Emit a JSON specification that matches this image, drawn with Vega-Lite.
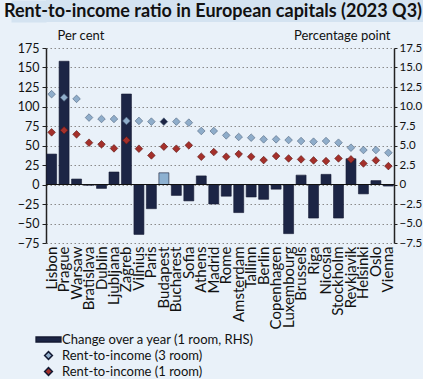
{
  "$schema": "https://vega.github.io/schema/vega-lite/v6.json",
  "background": "#e9f1f9",
  "padding": 0,
  "columns": 1,
  "bounds": "full",
  "spacing": 7,
  "config": {
    "font": "Lato",
    "view": {"stroke": null},
    "axis": {"labelFont": "Lato", "labelFontSize": 12, "labelColor": "#111", "titleFont": "Lato", "titleFontSize": 13, "titleFontWeight": "normal", "titleColor": "#111", "domainColor": "#222", "tickColor": "#222", "labelOverlap": false},
    "legend": {"orient": "none", "legendX": -4, "legendY": 333, "title": null, "labelFont": "Lato", "labelFontSize": 13, "labelColor": "#111", "labelLimit": 400, "symbolSize": 60, "rowPadding": 1, "direction": "vertical", "labelOffset": 7}
  },
  "concat": [
    {
      "width": 388,
      "height": 22,
      "view": {"fill": "#d4e3f1", "stroke": null},
      "title": {"text": "Rent-to-income ratio in European capitals (2023 Q3)", "anchor": "start", "frame": "bounds", "offset": -21, "fontSize": 18, "font": "Lato", "fontWeight": "bold", "color": "#111", "dx": 4},
      "mark": {"type": "point", "opacity": 0},
      "encoding": {
        "y": {"datum": 0, "type": "quantitative", "scale": {"domain": [-1, 1]},
              "axis": {"values": [0], "tickSize": 35, "tickWidth": 22, "tickColor": "#d4e3f1", "labels": false, "domain": false, "title": null, "grid": false}}
      }
    },
    {
      "width": 348,
      "height": 195,
      "data": {"values": [
        {"city": "Lisbon", "change": 3.9, "r3": 115.8, "r1": 66.9},
        {"city": "Prague", "change": 15.8, "r3": 111.5, "r1": 69.5},
        {"city": "Warsaw", "change": 0.7, "r3": 109.8, "r1": 64.3},
        {"city": "Bratislava", "change": -0.1, "r3": 85.8, "r1": 53.6},
        {"city": "Dublin", "change": -0.5, "r3": 84, "r1": 51.5},
        {"city": "Ljubljana", "change": 1.6, "r3": 84, "r1": 46.3},
        {"city": "Zagreb", "change": 11.6, "r3": 81.5, "r1": 56.6},
        {"city": "Vilnius", "change": -6.4, "r3": 81.5, "r1": 45.9},
        {"city": "Paris", "change": -3.1, "r3": 80.6, "r1": 37.3},
        {"city": "Budapest", "change": 1.5, "r3": 80.6, "r1": 48.5},
        {"city": "Bucharest", "change": -1.4, "r3": 80.6, "r1": 45.9},
        {"city": "Sofia", "change": -2.1, "r3": 79.3, "r1": 50.2},
        {"city": "Athens", "change": 1.1, "r3": 68.6, "r1": 35.6},
        {"city": "Madrid", "change": -2.5, "r3": 68.6, "r1": 41.6},
        {"city": "Rome", "change": -1.5, "r3": 63, "r1": 35.6},
        {"city": "Amsterdam", "change": -3.6, "r3": 60.9, "r1": 39},
        {"city": "Tallinn", "change": -1.6, "r3": 60, "r1": 35.6},
        {"city": "Berlin", "change": -1.9, "r3": 57.9, "r1": 31.3},
        {"city": "Copenhagen", "change": -0.6, "r3": 57.9, "r1": 36.4},
        {"city": "Luxembourg", "change": -6.3, "r3": 57, "r1": 33.4},
        {"city": "Brussels", "change": 1.2, "r3": 55.7, "r1": 32.2},
        {"city": "Riga", "change": -4.3, "r3": 54.9, "r1": 30.9},
        {"city": "Nicosia", "change": 1.3, "r3": 55.7, "r1": 30},
        {"city": "Stockholm", "change": -4.3, "r3": 53.6, "r1": 33.4},
        {"city": "Reykjavik", "change": 3.3, "r3": 47.2, "r1": 32.2},
        {"city": "Helsinki", "change": -1.2, "r3": 44.2, "r1": 27},
        {"city": "Oslo", "change": 0.5, "r3": 44.2, "r1": 30.9},
        {"city": "Vienna", "change": -0.2, "r3": 40.7, "r1": 23.6}
      ]},
      "encoding": {
        "x": {"field": "city", "type": "nominal", "sort": null, "scale": {"paddingInner": 0.2, "paddingOuter": 0.05},
              "axis": {"title": null, "labelAngle": -90, "labelAlign": "right", "labelBaseline": "middle", "ticks": false, "domain": false, "labelPadding": 3, "labelFontSize": 15}}
      },
      "layer": [
        {
          "layer": [
            {
              "mark": {"type": "bar", "stroke": "#141a33", "strokeWidth": 0.6},
              "encoding": {
                "y": {"field": "change", "type": "quantitative", "scale": {"domain": [-7.5, 17.5], "nice": false, "zero": false},
                      "axis": {"orient": "right", "title": "Percentage point", "titleAngle": 0, "titleAlign": "right", "titleBaseline": "bottom", "titleX": -4, "titleY": -6,
                               "values": [-7.5, -5, -2.5, 0, 2.5, 5, 7.5, 10, 12.5, 15, 17.5], "labelExpr": "datum.value == 0 ? '0' : format(datum.value, '.1f')",
                               "grid": false, "domainWidth": 1.5, "tickSize": 3, "labelPadding": 2, "labelFontSize": 11.5}},
                "color": {"condition": {"test": "datum.city === 'Budapest'", "value": "#8db1d1"},
                          "datum": "Change over a year (1 room, RHS)",
                          "scale": {"domain": ["Change over a year (1 room, RHS)", "Rent-to-income (3 room)", "Rent-to-income (1 room)"], "range": ["#1c2545", "#8fadca", "#a4302b"]}}
              }
            },
            {
              "mark": {"type": "rule", "color": "#111", "strokeWidth": 1.2},
              "encoding": {
                "y": {"datum": 0, "type": "quantitative",
                      "axis": {"orient": "right", "title": "Percentage point", "titleAngle": 0, "titleAlign": "right", "titleBaseline": "bottom", "titleX": -4, "titleY": -6,
                               "values": [-7.5, -5, -2.5, 0, 2.5, 5, 7.5, 10, 12.5, 15, 17.5], "labelExpr": "datum.value == 0 ? '0' : format(datum.value, '.1f')",
                               "grid": false, "domainWidth": 1.5, "tickSize": 3, "labelPadding": 2, "labelFontSize": 11.5}},
                "x": {"value": 0}, "x2": {"value": 348}
              }
            }
          ]
        },
        {
          "layer": [
            {
              "mark": {"type": "point", "filled": true, "size": 58, "opacity": 1, "stroke": "#50657d", "strokeWidth": 0.6},
              "encoding": {
                "y": {"field": "r3", "type": "quantitative", "scale": {"domain": [-75, 175], "nice": false},
                      "axis": {"title": "Per cent", "titleAngle": 0, "titleAlign": "left", "titleBaseline": "bottom", "titleX": 11, "titleY": -6,
                               "values": [-75, -50, -25, 0, 25, 50, 75, 100, 125, 150, 175], "grid": true, "gridDash": [1.5, 2.5], "gridColor": "#8a8a8a",
                               "domainWidth": 1.5, "tickSize": 4, "labelPadding": 3, "labelFontSize": 12.5}},
                "color": {"condition": {"test": "datum.city === 'Budapest'", "value": "#1c2545"}, "datum": "Rent-to-income (3 room)"},
                "shape": {"datum": "Rent-to-income (3 room)",
                          "scale": {"domain": ["Change over a year (1 room, RHS)", "Rent-to-income (3 room)", "Rent-to-income (1 room)"],
                                    "range": ["M-3.2,-0.65L3.2,-0.65L3.2,0.65L-3.2,0.65Z", "diamond", "diamond"]}}
              }
            },
            {
              "mark": {"type": "point", "filled": true, "size": 58, "opacity": 1, "stroke": "#5a1512", "strokeWidth": 0.6},
              "encoding": {
                "y": {"field": "r1", "type": "quantitative",
                      "axis": {"title": "Per cent", "titleAngle": 0, "titleAlign": "left", "titleBaseline": "bottom", "titleX": 11, "titleY": -6,
                               "values": [-75, -50, -25, 0, 25, 50, 75, 100, 125, 150, 175], "grid": true, "gridDash": [1.5, 2.5], "gridColor": "#8a8a8a",
                               "domainWidth": 1.5, "tickSize": 4, "labelPadding": 3, "labelFontSize": 12.5}},
                "color": {"datum": "Rent-to-income (1 room)"},
                "shape": {"datum": "Rent-to-income (1 room)"}
              }
            }
          ]
        }
      ],
      "resolve": {"scale": {"y": "independent"}}
    }
  ]
}
